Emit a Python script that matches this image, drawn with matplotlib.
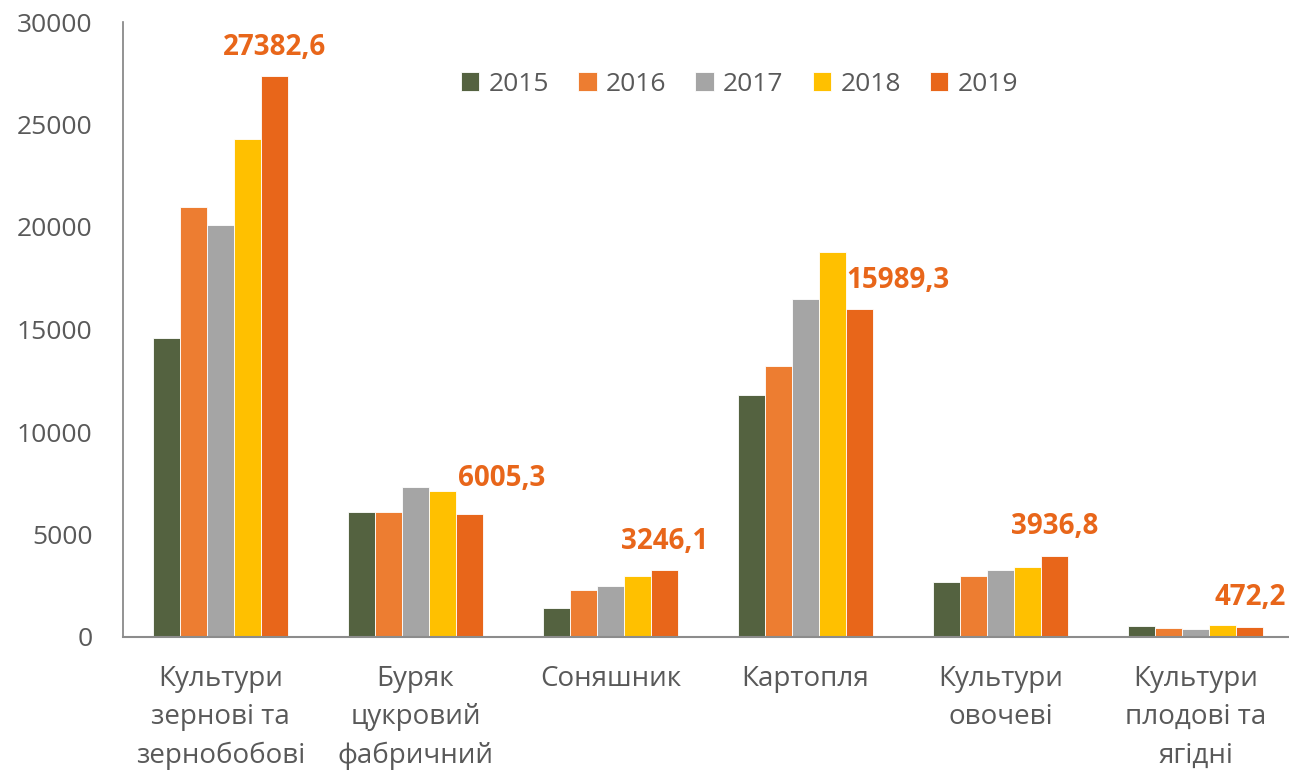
import matplotlib
matplotlib.use("Agg")
import matplotlib.pyplot as plt
import numpy as np

categories = ["Культури\nзернові та\nзернобобові", "Буряк\nцукровий\nфабричний",
              "Соняшник", "Картопля", "Культури\nовочеві", "Культури\nплодові та\nягідні"]
years = ["2015", "2016", "2017", "2018", "2019"]
v2015 = [14600, 6100, 1400, 11800, 2700, 530]
v2016 = [21000, 6100, 2300, 13200, 3000, 430]
v2017 = [20100, 7300, 2500, 16500, 3250, 400]
v2018 = [24300, 7100, 3000, 18800, 3400, 580]
v2019 = [27382.6, 6005.3, 3246.1, 15989.3, 3936.8, 472.2]
label_texts = ["27382,6", "6005,3", "3246,1", "15989,3", "3936,8", "472,2"]
yticks = [0, 5000, 10000, 15000, 20000, 25000, 30000]

series = [v2015, v2016, v2017, v2018, v2019]
colors = ["#546240", "#ED7D31", "#A5A5A5", "#FFC000", "#E8661A"]
FONT = "Open Sans"
TXT = "#595959"

fig = plt.figure(figsize=(12.89, 7.72), dpi=100)
ax = fig.add_axes([123/1289, 1-637/772, 1170/1289, 615/772])

x = np.arange(len(categories))
w = 0.139
for j, (vals, c, yr) in enumerate(zip(series, colors, years)):
    ax.bar(x + (j-2)*w, vals, width=w, color=c, edgecolor="white", linewidth=0.6, label=yr)

# data labels on 2019
dx_px = [0, 32, 0, 38, 0, 0]
dy_px = [28, 35, 29, 29, 30, 30]
for i, (v, t) in enumerate(zip(v2019, label_texts)):
    ax.annotate(t, (x[i] + 2*w, v), xytext=(dx_px[i], dy_px[i]), textcoords="offset pixels",
                ha="center", va="center", fontsize=20, fontweight="bold",
                color="#E8661A", family=FONT)

ax.set_xlim(-0.5, len(categories)-0.5)
ax.set_ylim(0, 30000)
ax.set_yticks(yticks)
ax.set_yticklabels([str(t) for t in yticks], fontsize=19, color=TXT, family=FONT)
ax.set_xticks(x)
ax.set_xticklabels(categories, fontsize=20, color=TXT, family=FONT, linespacing=1.5, va="top")
ax.tick_params(axis="y", length=0, pad=22)
ax.tick_params(axis="x", length=0, pad=20)
for s in ["top", "right"]:
    ax.spines[s].set_visible(False)
ax.spines["left"].set_color("#808080")
ax.spines["left"].set_linewidth(1.2)
ax.spines["bottom"].set_color("#8c8c8c")
ax.spines["bottom"].set_linewidth(1.5)

leg = ax.legend(loc="center", bbox_to_anchor=(0.527, 0.899), ncol=5, frameon=False,
                prop={"family": FONT, "size": 19}, handlelength=0.7, handleheight=0.7,
                handletextpad=0.35, columnspacing=1.1)
for t in leg.get_texts():
    t.set_color(TXT)

fig.savefig("out.png", dpi=100)
